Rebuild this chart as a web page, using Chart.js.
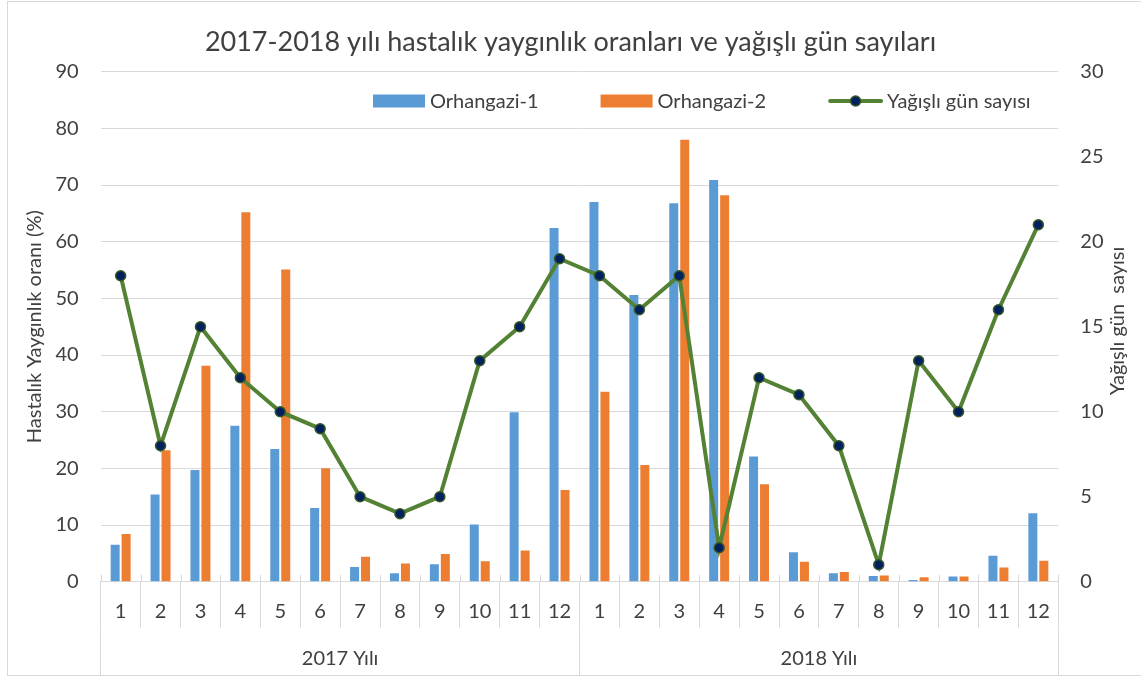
<!DOCTYPE html>
<html>
<head>
<meta charset="utf-8">
<script src="https://cdn.jsdelivr.net/npm/chart.js@4.4.1/dist/chart.umd.min.js"></script>
<style>
  html, body { margin: 0; padding: 0; background: #fff; }
  #wrap { width: 1141px; height: 677px; }
</style>
</head>
<body>
<div id="wrap"><canvas id="chart" width="1141" height="677"></canvas></div>
<script>
const months = ["1", "2", "3", "4", "5", "6", "7", "8", "9", "10", "11", "12",
  "1", "2", "3", "4", "5", "6", "7", "8", "9", "10", "11", "12"];
const years = ["2017 Yılı", "2018 Yılı"];

const orhangazi1 = [6.5, 15.4, 19.7, 27.5, 23.4, 13.0, 2.6, 1.5, 3.1, 10.1, 29.9, 62.4,
  67.0, 50.6, 66.8, 70.9, 22.1, 5.2, 1.5, 1.0, 0.3, 0.9, 4.6, 12.1];
const orhangazi2 = [8.4, 23.2, 38.1, 65.2, 55.1, 20.0, 4.4, 3.2, 4.9, 3.6, 5.5, 16.2,
  33.5, 20.6, 78.0, 68.2, 17.2, 3.5, 1.7, 1.1, 0.8, 0.9, 2.5, 3.7];
const yagisliGun = [18, 8, 15, 12, 10, 9, 5, 4, 5, 13, 15, 19,
  18, 16, 18, 2, 12, 11, 8, 1, 13, 10, 16, 21];

const FONT = "Lato";
const TEXT = "#404040";
const GRID = "#d9d9d9";

// frame, little tick stubs above the axis line, right axis title and legend
const extras = {
  id: "extras",
  beforeDraw(chart) {
    const ctx = chart.ctx;
    ctx.save();
    ctx.fillStyle = "#fff";
    ctx.fillRect(0, 0, chart.width, chart.height);
    ctx.strokeStyle = GRID;
    ctx.lineWidth = 1;
    ctx.strokeRect(7.5, 1.5, chart.width + 10, chart.height - 3);
    ctx.restore();
  },
  afterDraw(chart) {
    const ctx = chart.ctx;
    const area = chart.chartArea;
    const x = chart.scales.x;
    ctx.save();

    // stubs
    ctx.strokeStyle = GRID;
    ctx.lineWidth = 1;
    const half = (x.getPixelForValue(1) - x.getPixelForValue(0)) / 2;
    for (let i = 0; i <= months.length; i++) {
      const px = Math.round(x.getPixelForValue(i) - half) + 0.5;
      ctx.beginPath();
      ctx.moveTo(px, area.bottom - 7);
      ctx.lineTo(px, area.bottom);
      ctx.stroke();
    }

    // right axis title, reading bottom to top
    ctx.fillStyle = TEXT;
    ctx.font = "20px " + FONT;
    ctx.textAlign = "center";
    ctx.textBaseline = "middle";
    ctx.translate(1118, 321);
    ctx.rotate(-Math.PI / 2);
    ctx.fillText("Yağışlı gün  sayısı", 0, 0);
    ctx.setTransform(1, 0, 0, 1, 0, 0);

    // legend
    const ds = chart.data.datasets;
    let lx = 373;
    const ly = 101;
    ctx.textAlign = "left";
    ds.forEach((d) => {
      if (d.type === "line") {
        ctx.strokeStyle = d.borderColor;
        ctx.lineWidth = 4;
        ctx.lineCap = "round";
        ctx.beginPath();
        ctx.moveTo(lx + 2, ly);
        ctx.lineTo(lx + 53, ly);
        ctx.stroke();
        ctx.beginPath();
        ctx.arc(lx + 27.5, ly, 5, 0, Math.PI * 2);
        ctx.fillStyle = d.pointBackgroundColor;
        ctx.fill();
        ctx.lineWidth = 1.5;
        ctx.strokeStyle = d.pointBorderColor;
        ctx.stroke();
        lx += 59;
      } else {
        ctx.fillStyle = d.backgroundColor;
        ctx.fillRect(lx, ly - 6.5, 52, 13);
        lx += 57;
      }
      ctx.fillStyle = TEXT;
      ctx.font = "20px " + FONT;
      ctx.fillText(d.label, lx, ly + 1);
      lx += ctx.measureText(d.label).width + 62;
    });
    ctx.restore();
  }
};

new Chart(document.getElementById("chart"), {
  type: "bar",
  data: {
    labels: months,
    datasets: [
      {
        label: "Orhangazi-1",
        data: orhangazi1,
        backgroundColor: "#5b9bd5",
        yAxisID: "y",
        xAxisID: "x",
        categoryPercentage: 0.55,
        barPercentage: 0.82,
        order: 1
      },
      {
        label: "Orhangazi-2",
        data: orhangazi2,
        backgroundColor: "#ed7d31",
        yAxisID: "y",
        xAxisID: "x",
        categoryPercentage: 0.55,
        barPercentage: 0.82,
        order: 1
      },
      {
        type: "line",
        label: "Yağışlı gün sayısı",
        data: yagisliGun,
        yAxisID: "y1",
        xAxisID: "x",
        borderColor: "#548235",
        borderWidth: 4,
        pointRadius: 5,
        pointBorderWidth: 1.5,
        pointBackgroundColor: "#002060",
        pointBorderColor: "#385723",
        tension: 0,
        order: 0
      }
    ]
  },
  options: {
    responsive: false,
    animation: false,
    layout: { padding: { left: 8, right: 8, top: 0, bottom: 1.3 } },
    plugins: {
      legend: { display: false },
      tooltip: { enabled: false },
      title: {
        display: true,
        text: "2017-2018 yılı hastalık yaygınlık oranları ve yağışlı gün sayıları",
        color: TEXT,
        font: { family: FONT, size: 27, weight: "normal" },
        padding: { top: 25.8, bottom: 13.5 }
      }
    },
    scales: {
      x: {
        type: "category",
        position: "bottom",
        offset: true,
        grid: { offset: true, drawOnChartArea: false, drawTicks: true, tickLength: 46, color: GRID },
        border: { display: true, color: GRID },
        ticks: { color: TEXT, font: { family: FONT, size: 20 }, padding: -27.7, maxRotation: 0, autoSkip: false },
        afterFit: (s) => { s.height = 46; }
      },
      x2: {
        type: "category",
        position: "bottom",
        labels: years,
        offset: true,
        grid: { offset: true, drawOnChartArea: false, drawTicks: true, tickLength: 48, color: GRID },
        border: { display: false },
        ticks: { color: TEXT, font: { family: FONT, size: 20 }, padding: -28.7, maxRotation: 0, autoSkip: false },
        afterFit: (s) => { s.height = 48; }
      },
      y: {
        position: "left",
        min: 0,
        max: 90,
        ticks: { stepSize: 10, color: TEXT, font: { family: FONT, size: 20 }, padding: 22 },
        grid: { color: GRID, drawTicks: false },
        border: { display: false },
        title: {
          display: true,
          text: "Hastalık Yaygınlık oranı (%)",
          color: TEXT,
          font: { family: FONT, size: 20 },
          padding: { top: 15, bottom: 0 }
        },
        afterFit: (s) => { s.width = 92.7; }
      },
      y1: {
        position: "right",
        min: 0,
        max: 30,
        ticks: { stepSize: 5, color: TEXT, font: { family: FONT, size: 20 }, padding: 22 },
        grid: { drawOnChartArea: false, drawTicks: false },
        border: { display: false },
        afterFit: (s) => { s.width = 74.7; }
      }
    }
  },
  plugins: [extras]
});
</script>
</body>
</html>
